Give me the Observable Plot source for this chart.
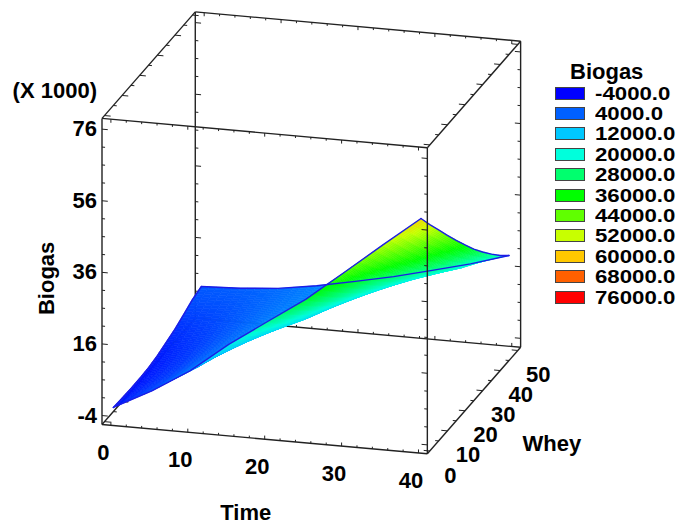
<!DOCTYPE html>
<html>
<head>
<meta charset="utf-8">
<script src="https://cdn.jsdelivr.net/npm/d3@7"></script>
<script src="https://cdn.jsdelivr.net/npm/@observablehq/plot@0.6"></script>
<style>
html,body{margin:0;padding:0;background:#fff}
#wrap{position:relative;width:676px;height:525px;overflow:hidden}
#legend{position:absolute;left:555px;top:60px;font:bold 19px "Liberation Sans",Arial,sans-serif;color:#000}
#legend .t{position:absolute;left:15px;top:-1px;white-space:nowrap;font-size:22px}
#legend .r{position:absolute;left:0;height:20px;white-space:nowrap}
#legend .s{position:absolute;left:0;top:3px;width:28px;height:11px;border:1.5px solid #444}
#legend .l{position:absolute;left:40px;top:-1px;transform:scaleX(1.17);transform-origin:left center}
</style>
</head>
<body>
<div id="wrap"><div id="chart"></div><div id="legend"></div></div>
<script>
// Data (Biogas in thousands)
const timeGrid = [0, 5, 10, 15, 20, 25, 30, 35, 40];
const wheyGrid = [0, 5, 10, 15, 20, 25, 30, 35, 40, 45, 50];
const biogasT0  = [-2.3, -2.5, -2.6, -2.6, -2.4, -1.9, -1.0, -0.1, 1.2, 2.6, 3.4];
const biogasT5  = [3.3, 2.2, 1.5, 1.1, 1.0, 1.1, 1.4, 1.9, 2.5, 3.2, 3.9];
const biogasT10 = [9.9, 8.3, 7.1, 6.2, 5.5, 5.0, 4.7, 4.6, 4.6, 4.7, 4.8];
const biogasT15 = [18.2, 15.6, 13.3, 11.5, 9.9, 8.7, 7.8, 7.2, 6.8, 6.6, 6.5];
const biogasT20 = [25.5, 22.3, 19.5, 16.9, 14.7, 12.9, 11.4, 10.2, 9.4, 8.9, 8.7];
const biogasT25 = [32.7, 29.5, 26.5, 23.7, 21.1, 18.7, 16.5, 14.6, 12.9, 11.7, 11];
const biogasT30 = [41.2, 37.6, 34.2, 30.9, 27.7, 24.6, 21.8, 19.2, 16.9, 15, 13.7];
const biogasT35 = [49.8, 45.5, 41.4, 37.4, 33.6, 30, 26.6, 23.5, 20.6, 18.2, 16.5];
const biogasT40 = [58.2, 53.7, 49.4, 45.1, 40.9, 36.8, 32.8, 29.2, 25.8, 22.6, 19.8];
const biogas = [biogasT0, biogasT5, biogasT10, biogasT15, biogasT20, biogasT25, biogasT30, biogasT35, biogasT40];

const legendLevels = [-4000, 4000, 12000, 20000, 28000, 36000, 44000, 52000, 60000, 68000, 76000];
const legendColors = ["#0000ff","#0060ff","#00c8ff","#00ffdc","#00ff6e","#00ff00","#60ff00","#c8ff00","#ffc800","#ff6000","#ff0000"];
const timeLabels = [0, 10, 20, 30, 40];
const wheyLabels = [0, 10, 20, 30, 40, 50];
const biogasLabels = [-4, 16, 36, 56, 76];

// Axis-box extents and the oblique view of the 3D box
const tMin = -1.157, tMax = 41.15, wMin = -1.42, wMax = 51.58, zMin = -6.5, zMax = 79;
const px = (t, w) => 101.5 + 7.69 * (t - tMin) + 1.76 * (w - wMin);
const py = (t, w, z) => 424 + 0.693 * (t - tMin) - 2.01 * (w - wMin) - 3.58 * (z - zMin);
const P = (t, w, z, extra = {}) => ({x: px(t, w), y: py(t, w, z), ...extra});

// Shading mesh of the surface, back to front
const sub = 5;
const surf = (ti, wi, a, b) => {
  const z00 = biogas[ti][wi], z10 = biogas[ti + 1][wi], z01 = biogas[ti][wi + 1], z11 = biogas[ti + 1][wi + 1];
  return z00 * (1 - a) * (1 - b) + z10 * a * (1 - b) + z01 * (1 - a) * b + z11 * a * b;
};
const cells = [];
let cid = 0;
for (let wi = wheyGrid.length - 2; wi >= 0; wi--) {
  for (let b = sub - 1; b >= 0; b--) {
    for (let ti = 0; ti < timeGrid.length - 1; ti++) {
      for (let a = 0; a < sub; a++) {
        const a0 = a / sub, a1 = (a + 1) / sub, b0 = b / sub, b1 = (b + 1) / sub;
        const T = f => timeGrid[ti] + f * (timeGrid[ti + 1] - timeGrid[ti]);
        const W = f => wheyGrid[wi] + f * (wheyGrid[wi + 1] - wheyGrid[wi]);
        const v = 1000 * (surf(ti, wi, a0, b0) + surf(ti, wi, a1, b0) + surf(ti, wi, a0, b1) + surf(ti, wi, a1, b1)) / 4;
        const id = cid++;
        cells.push(
          P(T(a0), W(b0), surf(ti, wi, a0, b0), {id, v}),
          P(T(a1), W(b0), surf(ti, wi, a1, b0), {id, v}),
          P(T(a1), W(b1), surf(ti, wi, a1, b1), {id, v}),
          P(T(a0), W(b1), surf(ti, wi, a0, b1), {id, v})
        );
      }
    }
  }
}

// Surface outline
const lastT = timeGrid.length - 1, lastW = wheyGrid.length - 1;
const outline = [
  ...timeGrid.map((t, i) => P(t, 0, biogas[i][0], {e: "w0"})),
  ...timeGrid.map((t, i) => P(t, 50, biogas[i][lastW], {e: "w50"})),
  ...wheyGrid.map((w, j) => P(0, w, biogas[0][j], {e: "t0"})),
  ...wheyGrid.map((w, j) => P(40, w, biogas[lastT][j], {e: "t40"}))
];

// Box edges
const edge = (a, b) => ({x1: px(a[0], a[1]), y1: py(a[0], a[1], a[2]), x2: px(b[0], b[1]), y2: py(b[0], b[1], b[2])});
const backEdges = [
  edge([tMin, wMax, zMin], [tMin, wMax, zMax]),
  edge([tMin, wMax, zMin], [tMax, wMax, zMin]),
  edge([tMin, wMin, zMin], [tMin, wMax, zMin])
];
const frontEdges = [
  edge([tMin, wMin, zMin], [tMin, wMin, zMax]),
  edge([tMax, wMin, zMin], [tMax, wMin, zMax]),
  edge([tMax, wMax, zMin], [tMax, wMax, zMax]),
  edge([tMin, wMin, zMax], [tMax, wMin, zMax]),
  edge([tMin, wMax, zMax], [tMax, wMax, zMax]),
  edge([tMin, wMin, zMax], [tMin, wMax, zMax]),
  edge([tMax, wMin, zMax], [tMax, wMax, zMax]),
  edge([tMin, wMin, zMin], [tMax, wMin, zMin]),
  edge([tMax, wMin, zMin], [tMax, wMax, zMin])
];

// Ticks
const backTicks = [], ticks = [];
d3.range(0, 41, 2).forEach(t => {
  const len = t % 10 === 0 ? 1.0 : 0.6;
  ticks.push(edge([t, wMin, zMin], [t, wMin, zMin + len]), edge([t, wMin, zMax], [t, wMin, zMax - len]), edge([t, wMax, zMax], [t, wMax, zMax - len]));
  backTicks.push(edge([t, wMax, zMin], [t, wMax, zMin + len]));
});
d3.range(0, 51, 5).forEach(w => {
  const len = w % 10 === 0 ? 0.8 : 0.45;
  ticks.push(edge([tMin, w, zMax], [tMin + len, w, zMax]), edge([tMax, w, zMax], [tMax - len, w, zMax]), edge([tMax, w, zMin], [tMax - len, w, zMin]));
  backTicks.push(edge([tMin, w, zMin], [tMin + len, w, zMin]));
});
d3.range(-4, 77, 5).forEach(z => {
  const len = (z + 4) % 20 === 0 ? 0.75 : 0.4;
  ticks.push(edge([tMin, wMin, z], [tMin + len, wMin, z]), edge([tMax, wMin, z], [tMax - len, wMin, z]), edge([tMax, wMax, z], [tMax - len, wMax, z]));
  backTicks.push(edge([tMin, wMax, z], [tMin + len, wMax, z]));
});

const font = {fontFamily: "Liberation Sans, Arial, sans-serif", fontWeight: "bold", fontSize: 22, fill: "#000"};

const plot = Plot.plot({
  width: 676, height: 525,
  marginTop: 0, marginRight: 0, marginBottom: 0, marginLeft: 0,
  x: {domain: [0, 676], range: [0, 676], axis: null},
  y: {domain: [0, 525], range: [0, 525], axis: null},
  color: {type: "linear", domain: legendLevels, range: legendColors, interpolate: "rgb"},
  style: {background: "#fff"},
  marks: [
    Plot.link(backEdges, {x1: "x1", y1: "y1", x2: "x2", y2: "y2", stroke: "#222", strokeWidth: 1.4}),
    Plot.link(backTicks, {x1: "x1", y1: "y1", x2: "x2", y2: "y2", stroke: "#222", strokeWidth: 1}),
    Plot.line(cells, {x: "x", y: "y", z: "id", fill: "v", stroke: "v", strokeWidth: 0.6, curve: "linear-closed"}),
    Plot.line(outline, {x: "x", y: "y", z: "e", stroke: "#1c1ce6", strokeWidth: 1.4}),
    Plot.link(frontEdges, {x1: "x1", y1: "y1", x2: "x2", y2: "y2", stroke: "#222", strokeWidth: 1.4}),
    Plot.link(ticks, {x1: "x1", y1: "y1", x2: "x2", y2: "y2", stroke: "#222", strokeWidth: 1}),
    Plot.text(timeLabels, {x: t => px(t, wMin), y: t => py(t, wMin, zMin), text: d => String(d), dx: -7.5, dy: 28, ...font}),
    Plot.text(wheyLabels, {x: w => px(tMax, w), y: w => py(tMax, w, zMin), text: d => String(d), dx: 20.5, dy: 24.5, ...font}),
    Plot.text(biogasLabels, {x: () => px(tMin, wMin), y: z => py(tMin, wMin, z), text: d => String(d), dx: -5, dy: 0, textAnchor: "end", ...font}),
    Plot.text(["(X 1000)"], {x: () => px(tMin, wMin), y: () => py(tMin, wMin, 76), text: d => d, dx: -5, dy: -38, textAnchor: "end", ...font}),
    Plot.text(["Time"], {x: () => px(20, wMin), y: () => py(20, wMin, zMin), text: d => d, dx: -19, dy: 74, ...font}),
    Plot.text(["Whey"], {x: () => px(tMax, 25), y: () => py(tMax, 25, zMin), text: d => d, dx: 78, dy: 43, ...font}),
    Plot.text(["Biogas"], {x: () => px(tMin, wMin) - 55, y: () => py(tMin, wMin, 36) + 6, text: d => d, rotate: -90, ...font})
  ]
});
document.getElementById("chart").appendChild(plot);

// Legend
const legend = document.getElementById("legend");
legend.innerHTML = '<div class="t">Biogas</div>' + legendLevels.map((v, i) =>
  `<div class="r" style="top:${23.5 + i * 20.4}px"><div class="s" style="background:${legendColors[i]}"></div><div class="l">${v.toFixed(1)}</div></div>`
).join("");
</script>
</body>
</html>
